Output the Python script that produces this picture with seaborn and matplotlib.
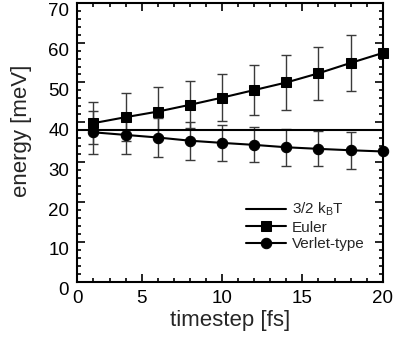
import numpy as np
import pandas as pd
import matplotlib
matplotlib.use("Agg")
import matplotlib.pyplot as plt
import matplotlib.transforms as mtransforms
from matplotlib.ticker import FixedLocator, MultipleLocator
import seaborn as sns

# data
timestep = [2, 4, 6, 8, 10, 12, 14, 16, 18, 20]
euler = [39.8, 41.3, 42.7, 44.4, 46.2, 48.1, 50.0, 52.3, 54.9, 57.4]
euler_err = [5.3, 6.1, 6.1, 5.9, 5.9, 6.25, 6.9, 6.6, 7.1, np.nan]
verlet = [37.5, 36.85, 36.2, 35.4, 34.85, 34.35, 33.75, 33.35, 33.0, 32.7]
verlet_err = [5.4, 4.9, 4.9, 4.75, 4.5, 4.4, 4.6, 4.4, 4.7, np.nan]
kbt_level = 38.1
x_ticks = [1, 5, 10, 15, 20]
x_ticklabels = ["0", "5", "10", "15", "20"]
y_ticks = [0, 10, 20, 30, 40, 50, 60, 70]

sns.set_style("ticks")
plt.rcParams["font.family"] = ["Liberation Sans", "DejaVu Sans"]
plt.rcParams["mathtext.fontset"] = "custom"
plt.rcParams["mathtext.rm"] = "Liberation Sans"
plt.rcParams["mathtext.it"] = "Liberation Sans"

fig = plt.figure(figsize=(3.93, 3.40), dpi=100)
ax = fig.add_axes([0.197, 0.171, 0.777, 0.821])

df = pd.DataFrame({"t": timestep, "Euler": euler, "Verlet-type": verlet})

ax.axhline(kbt_level, color="black", lw=1.5, label=r"3/2 k$_\mathrm{B}$T", zorder=2)

ax.errorbar(timestep, euler, yerr=euler_err, fmt="none", ecolor="#3a3a3a",
            elinewidth=1.0, capsize=3.6, capthick=1.0, zorder=1)
ax.errorbar(timestep, verlet, yerr=verlet_err, fmt="none", ecolor="#3a3a3a",
            elinewidth=1.0, capsize=3.6, capthick=1.0, zorder=1)

sns.lineplot(data=df, x="t", y="Euler", ax=ax, color="black", lw=1.5,
             marker="s", markersize=6.5, markeredgecolor="black", label="Euler",
             zorder=3, clip_on=False)
sns.lineplot(data=df, x="t", y="Verlet-type", ax=ax, color="black", lw=1.5,
             marker="o", markersize=7.5, markeredgecolor="black", label="Verlet-type",
             zorder=3, clip_on=False)

ax.set_xlim(1, 20)
ax.set_ylim(0, 70)
ax.xaxis.set_major_locator(FixedLocator(x_ticks))
ax.set_xticklabels(x_ticklabels)
ax.xaxis.set_minor_locator(MultipleLocator(1))
ax.yaxis.set_major_locator(FixedLocator(y_ticks))
ax.yaxis.set_minor_locator(MultipleLocator(2))

ax.tick_params(which="both", direction="in", top=True, right=True, width=1.2,
               labelsize=13.5, colors="black")
ax.tick_params(which="major", length=6, pad=6)
ax.tick_params(which="minor", length=3)
for s in ax.spines.values():
    s.set_linewidth(1.5)
    s.set_color("black")

# y tick labels sit a little below their ticks in the reference
offset = mtransforms.ScaledTranslation(0, -7 / 100, fig.dpi_scale_trans)
for lab in ax.get_yticklabels():
    lab.set_transform(lab.get_transform() + offset)

ax.set_xlabel("timestep [fs]", fontsize=16, labelpad=2)
ax.set_ylabel("energy [meV]", fontsize=16)
ax.yaxis.set_label_coords(-0.148, 0.54)

leg = ax.legend(loc="upper left", bbox_to_anchor=(0.553, 0.29), frameon=False,
                fontsize=11, handlelength=2.6, handletextpad=0.4,
                labelspacing=0.15, borderpad=0, borderaxespad=0)

fig.savefig("out.png", dpi=100)
